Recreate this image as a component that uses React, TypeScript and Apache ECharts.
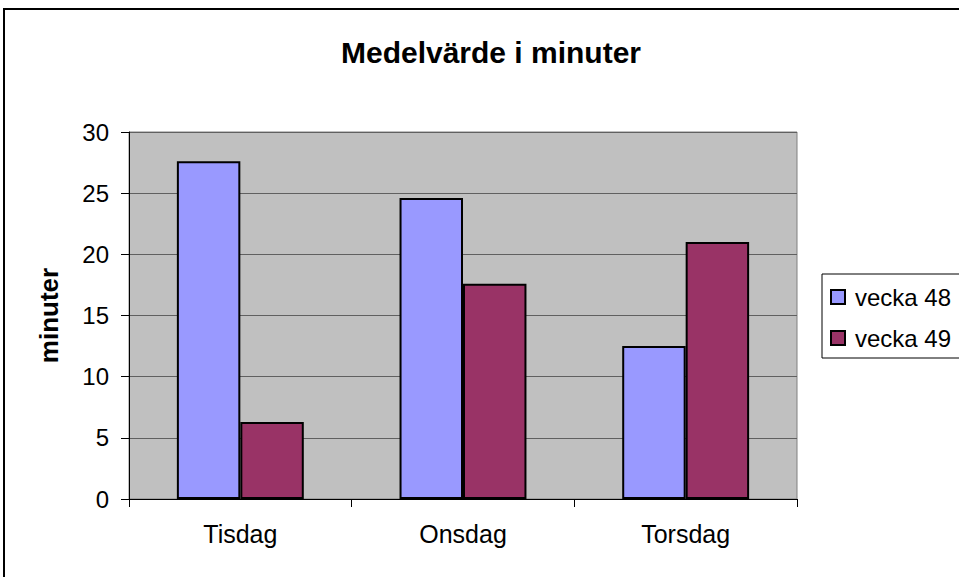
import React, { useEffect, useRef } from "react";
import * as echarts from "echarts";

const categories = ["Tisdag", "Onsdag", "Torsdag"];
const vecka48 = [27.6, 24.6, 12.5];
const vecka49 = [6.3, 17.6, 21.0];
const seriesNames = ["vecka 48", "vecka 49"];
const titleText = "Medelvärde i minuter";
const yAxisName = "minuter";

export default function App() {
  const ref = useRef<HTMLDivElement>(null);
  useEffect(() => {
    if (!ref.current) return;
    const chart = echarts.init(ref.current, undefined, { renderer: "svg" });
    const font = "'Liberation Sans', Arial, sans-serif";
    chart.setOption({
      animation: false,
      backgroundColor: "#ffffff",
      textStyle: { fontFamily: font },
      title: {
        text: titleText,
        left: 486,
        top: 32,
        textAlign: "center",
        textStyle: { fontSize: 30, fontWeight: "bold", color: "#000", fontFamily: font },
      },
      graphic: [
        {
          type: "rect",
          shape: { x: 4, y: 9, width: 1000, height: 600 },
          style: { fill: "none", stroke: "#000", lineWidth: 2 },
          silent: true,
        },
      ],
      legend: {
        orient: "vertical",
        left: 822,
        top: 274,
        padding: [11, 30, 8, 8],
        itemGap: 17,
        itemWidth: 14,
        itemHeight: 14,
        borderColor: "#000",
        borderWidth: 1,
        backgroundColor: "#fff",
        icon: "rect",
        textStyle: { fontSize: 24, color: "#000", fontFamily: font, padding: [0, 0, 0, 5] },
        data: seriesNames,
      },
      grid: {
        left: 129,
        top: 132,
        right: 162,
        bottom: 78,
        show: true,
        backgroundColor: "#c0c0c0",
        borderColor: "#808080",
        borderWidth: 1,
        containLabel: false,
      },
      xAxis: {
        type: "category",
        data: categories,
        axisLine: { lineStyle: { color: "#000", width: 1 } },
        axisTick: { show: true, length: 8, alignWithLabel: false, lineStyle: { color: "#000" } },
        axisLabel: { fontSize: 25, color: "#000", margin: 22, fontFamily: font },
      },
      yAxis: {
        type: "value",
        min: 0,
        max: 30,
        interval: 5,
        name: yAxisName,
        nameLocation: "middle",
        nameGap: 67,
        nameRotate: 90,
        nameTextStyle: { fontSize: 26, fontWeight: "bold", color: "#000", fontFamily: font },
        axisLine: { show: true, lineStyle: { color: "#000", width: 1 } },
        axisTick: { show: true, length: 8, lineStyle: { color: "#000" } },
        axisLabel: { fontSize: 24, color: "#000", margin: 20, fontFamily: font },
        splitLine: { show: true, lineStyle: { color: "#606060", width: 1 } },
      },
      series: [
        {
          name: seriesNames[0],
          type: "bar",
          data: vecka48,
          barGap: "0%",
          barCategoryGap: "43%",
          itemStyle: { color: "#9999ff", borderColor: "#000", borderWidth: 2 },
        },
        {
          name: seriesNames[1],
          type: "bar",
          data: vecka49,
          barGap: "0%",
          barCategoryGap: "43%",
          itemStyle: { color: "#993366", borderColor: "#000", borderWidth: 2 },
        },
      ],
    });
    return () => chart.dispose();
  }, []);
  return (
    <div
      ref={ref}
      style={{ position: "fixed", left: 0, top: 0, width: 959, height: 577 }}
    />
  );
}
